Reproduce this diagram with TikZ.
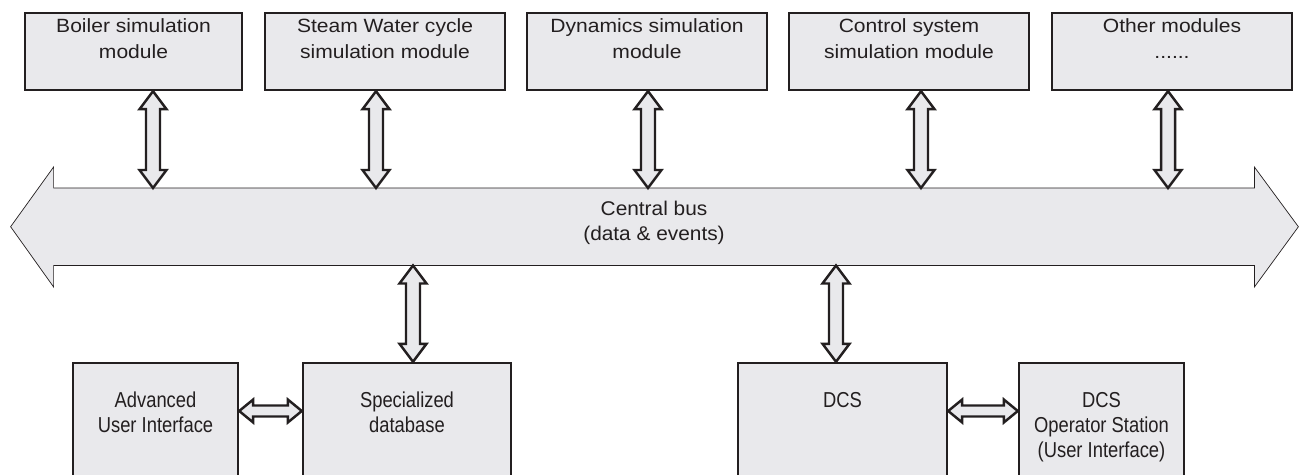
\documentclass[tikz,border=0pt]{standalone}
\usepackage{fontspec}
\setmainfont{Liberation Sans}
\newfontfamily\modfont[FakeStretch=1.1]{Liberation Sans}
\newfontfamily\busfont[FakeStretch=1.05]{Liberation Sans}
\newfontfamily\blockfont[FakeStretch=0.85]{Liberation Sans}
\usetikzlibrary{calc,backgrounds}

\definecolor{ink}{RGB}{35,31,32}
\definecolor{panel}{RGB}{233,233,236}

\begin{document}
\begin{tikzpicture}[x=0.02cm,y=-0.02cm,line width=1.4pt,
  module/.style={draw=ink,fill=panel,minimum height=1.54cm,inner sep=0pt},
  tag/.style={anchor=north,align=center,text=ink,inner sep=3.25pt,
    font=\modfont\fontsize{10.9}{14.5}\selectfont},
  bustag/.style={tag,yshift=-3.4pt,font=\busfont\fontsize{11.3}{14.2}\selectfont},
  lowtag/.style={tag,yshift=-13.3pt,font=\blockfont\fontsize{12.3}{14.2}\selectfont},
  % hollow double arrows, top to bottom and left to right
  vlink/.style={draw=ink,fill=panel,to path={let \p1=(\tikztostart),\p2=(\tikztotarget) in
    (\x1,\y1) -- (\x1+0.27cm,\y1-0.36cm) -- (\x1+0.14cm,\y1-0.36cm)
    -- (\x1+0.14cm,\y2+0.36cm) -- (\x1+0.27cm,\y2+0.36cm) -- (\x1,\y2)
    -- (\x1-0.27cm,\y2+0.36cm) -- (\x1-0.14cm,\y2+0.36cm)
    -- (\x1-0.14cm,\y1-0.36cm) -- (\x1-0.27cm,\y1-0.36cm) -- cycle}},
  hlink/.style={draw=ink,fill=panel,to path={let \p1=(\tikztostart),\p2=(\tikztotarget) in
    (\x1,\y1) -- (\x1+0.28cm,\y1+0.23cm) -- (\x1+0.28cm,\y1+0.11cm)
    -- (\x2-0.28cm,\y1+0.11cm) -- (\x2-0.28cm,\y1+0.23cm) -- (\x2,\y1)
    -- (\x2-0.28cm,\y1-0.23cm) -- (\x2-0.28cm,\y1-0.11cm)
    -- (\x1+0.28cm,\y1-0.11cm) -- (\x1+0.28cm,\y1-0.23cm) -- cycle}}]

  \path[use as bounding box,clip] (0,0) rectangle (1300,475);

  % simulation modules
  \node[module,minimum width=4.34cm,label={[tag]north:{Boiler simulation\\module}}] (boiler) at (133.5,51.5) {};
  \node[module,minimum width=4.8cm,label={[tag]north:{Steam Water cycle\\simulation module}}] (steam) at (385,51.5) {};
  \node[module,minimum width=4.8cm,label={[tag]north:{Dynamics simulation\\module}}] (dyn) at (647,51.5) {};
  \node[module,minimum width=4.8cm,label={[tag]north:{Control system\\simulation module}}] (ctrl) at (909,51.5) {};
  \node[module,minimum width=4.8cm,label={[tag]north:{Other modules\\......}}] (other) at (1172,51.5) {};

  % central bus
  \node[minimum width=24.02cm,minimum height=1.55cm,inner sep=0pt,outer sep=0pt,
    label={[bustag]north:{Central bus\\(data \& events)}}] (bus) at (654,226.75) {};
  \begin{scope}[on background layer]
    \draw[draw=ink,fill=panel] (bus.north west) -- (bus.north east) -- ++(0,-21) -- ++(44,59.75)
      -- ++(-44,60.25) -- ++(0,-21.5) -- (bus.south west) -- ++(0,21.5) -- ++(-43,-60.25)
      -- ++(43,-59.75) -- cycle;
  \end{scope}

  % lower blocks
  \node[module,minimum width=3.3cm,minimum height=2.54cm,label={[lowtag]north:{Advanced\\User Interface}}] (aui) at (155.5,426.5) {};
  \node[module,minimum width=4.16cm,minimum height=2.54cm,label={[lowtag]north:{Specialized\\database}}] (db) at (407,426.5) {};
  \node[module,minimum width=4.18cm,minimum height=2.54cm,label={[lowtag]north:{DCS}}] (dcs) at (842.5,426.5) {};
  \node[module,minimum width=3.3cm,minimum height=2.54cm,label={[lowtag]north:{DCS\\Operator Station\\(User Interface)}}] (ops) at (1101.5,426.5) {};

  % link columns
  \coordinate (c1) at (153,0);
  \coordinate (c2) at (376,0);
  \coordinate (c3) at (648,0);
  \coordinate (c4) at (921,0);
  \coordinate (c5) at (1168,0);
  \coordinate (c6) at (413,0);
  \coordinate (c7) at (836,0);
  \coordinate (r) at (0,411);

  \draw[vlink] (boiler.south -| c1) to (bus.north -| c1);
  \draw[vlink] (steam.south -| c2) to (bus.north -| c2);
  \draw[vlink] (dyn.south -| c3) to (bus.north -| c3);
  \draw[vlink] (ctrl.south -| c4) to (bus.north -| c4);
  \draw[vlink] (other.south -| c5) to (bus.north -| c5);
  \draw[vlink] (bus.south -| c6) to (db.north -| c6);
  \draw[vlink] (bus.south -| c7) to (dcs.north -| c7);

  \draw[hlink] (aui.east |- r) to (db.west |- r);
  \draw[hlink] (dcs.east |- r) to (ops.west |- r);
\end{tikzpicture}
\end{document}
